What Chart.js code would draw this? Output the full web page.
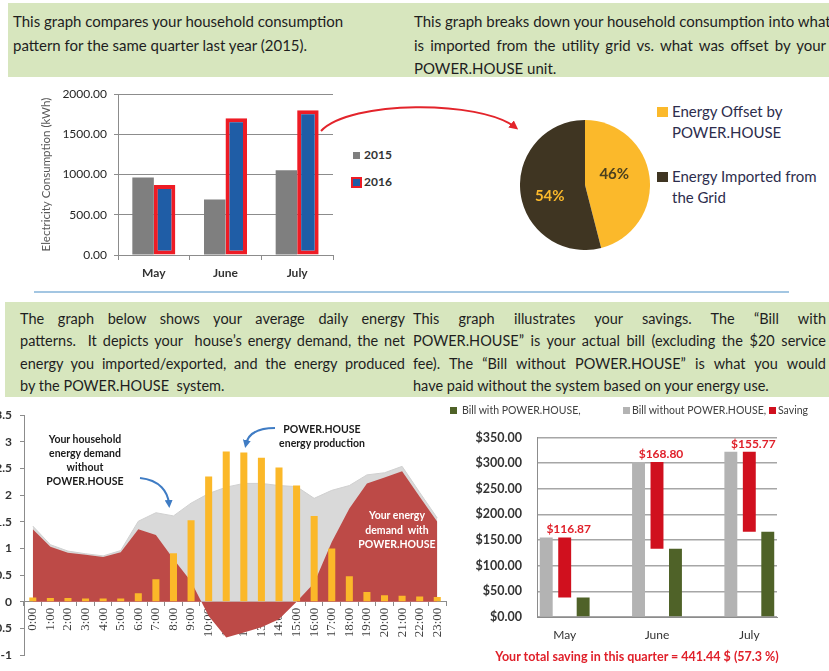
<!DOCTYPE html>
<html>
<head>
<meta charset="utf-8">
<script src="https://cdn.jsdelivr.net/npm/chart.js@4.4.0/dist/chart.umd.min.js"></script>
<style>
  body { margin: 0; background: #fff; font-family: Lato, 'Open Sans', sans-serif; color: #1e1e1e; }
  #page { position: relative; width: 829px; height: 671px; overflow: hidden; background: #fff; }
  .box { position: absolute; background: #d7e6be; }
  .col { position: absolute; font-size: 15px; }
  .col div { height: 23.5px; line-height: 23.5px; white-space: nowrap; }
  .col2 { font-size: 14.5px; }
  .col2 div { height: 22.3px; line-height: 22.3px; }
  canvas { position: absolute; }
  .note { position: absolute; font-weight: bold; font-size: 10.5px; line-height: 14px; text-align: center; color: #1a1a1a; }
  .leg { position: absolute; white-space: nowrap; }
  .sw { position: absolute; }
  #sep { position: absolute; left: 34px; top: 291px; width: 755px; height: 2px; background: #a3c6e2; }
  #footer { position: absolute; left: 437px; width: 400px; top: 649px; text-align: center; font-weight: bold; font-size: 12.5px; color: #e0202a; }
</style>
</head>
<body>
<div id="page">
  <div class="box" style="left:8px; top:3px; width:821px; height:74px;"></div>
  <div class="col" style="left:13px; top:10px; width:360px;">
    <div>This graph compares your household consumption</div>
    <div>pattern for the same quarter last year (2015).</div>
  </div>
  <div class="col" style="left:414px; top:10px; width:412px;">
    <div class="j">This graph breaks down your household consumption into what</div>
    <div class="j">is imported from the utility grid vs. what was offset by your</div>
    <div>POWER.HOUSE unit.</div>
  </div>

  <canvas id="consumptionChart" width="302" height="200" style="left:38px; top:80px;"></canvas>
  <div id="consumptionLegend"></div>

  <canvas id="shareChart" width="130" height="130" style="left:520px; top:120px;"></canvas>
  <div id="shareLegend"></div>

  <div id="sep"></div>

  <div class="box" style="left:5px; top:302px; width:824px; height:95px;"></div>
  <div class="col col2" style="left:20px; top:308px; width:385px;">
    <div class="j">The graph below shows your average daily energy</div>
    <div class="j">patterns.&nbsp; It depicts your&nbsp; house’s energy demand, the net</div>
    <div class="j">energy you imported/exported, and the energy produced</div>
    <div>by the POWER.HOUSE&nbsp; system.</div>
  </div>
  <div class="col col2" style="left:413px; top:308px; width:413px;">
    <div class="j">This graph illustrates your savings. The “Bill with</div>
    <div class="j">POWER.HOUSE” is your actual bill (excluding the $20 service</div>
    <div class="j">fee). The “Bill without POWER.HOUSE” is what you would</div>
    <div>have paid without the system based on your energy use.</div>
  </div>

  <canvas id="dailyChart" width="475" height="271" style="left:-20px; top:400px;"></canvas>
  <div class="note" style="left:25px; top:432px; width:120px;">Your household<br>energy demand<br>without<br>POWER.HOUSE</div>
  <div class="note" style="left:252px; top:422px; width:140px;">POWER.HOUSE<br>energy production</div>
  <div class="note" style="left:347px; top:508px; width:100px; color:#fff; line-height:14.5px;">Your energy<br>demand&nbsp; with<br>POWER.HOUSE</div>

  <canvas id="billChart" width="369" height="256" style="left:460px; top:415px;"></canvas>
  <div id="billLegend"></div>
  <div id="footer"></div>

  <svg width="829" height="671" style="position:absolute; left:0; top:0; pointer-events:none;">
    <defs>
      <marker id="redHead" markerWidth="9" markerHeight="9" refX="5" refY="4.5" orient="auto" markerUnits="userSpaceOnUse">
        <path d="M0,0 L9,4.5 L0,9 z" fill="#e3242b"/>
      </marker>
      <marker id="blueHead" markerWidth="8" markerHeight="8" refX="4" refY="4" orient="auto" markerUnits="userSpaceOnUse">
        <path d="M0,0 L8,4 L0,8 z" fill="#3f7cc4"/>
      </marker>
    </defs>
    <path d="M321,131 C350,100 480,100 515,127" stroke="#e3242b" stroke-width="2" fill="none" marker-end="url(#redHead)"/>
    <path d="M140,478 C160,480 168,492 169,504" stroke="#3f7cc4" stroke-width="2" fill="none" marker-end="url(#blueHead)"/>
    <path d="M275,428 C256,428 248,435 246,444" stroke="#3f7cc4" stroke-width="2" fill="none" marker-end="url(#blueHead)"/>
  </svg>
</div>

<script>
// Consumption vs last year
const months = ['May', 'June', 'July'];
const yearNames = ['2015', '2016'];
const consumption2015 = [965, 690, 1055];
const consumption2016 = [870, 1700, 1800];

// Offset vs imported share
const shareNames = ['Energy Offset by POWER.HOUSE', 'Energy Imported from the Grid'];
const shareValues = [46, 54];

// Average daily pattern (kWh)
const hours = ['0:00', '1:00', '2:00', '3:00', '4:00', '5:00', '6:00', '7:00', '8:00', '9:00', '10:00', '11:00',
    '12:00', '13:00', '14:00', '15:00', '16:00', '17:00', '18:00', '19:00', '20:00', '21:00', '22:00', '23:00'];
const demandWithout = [1.42, 1.07, 0.95, 0.90, 0.86, 0.96, 1.51, 1.67, 1.61, 1.85, 2.03, 2.15,
    2.22, 2.22, 2.18, 2.16, 1.94, 2.09, 2.18, 2.38, 2.42, 2.54, 2.05, 1.57];
const demandWith = [1.36, 1.03, 0.92, 0.88, 0.84, 0.93, 1.36, 1.25, 0.80, 0.38, -0.27, -0.67,
    -0.58, -0.48, -0.33, 0.00, 0.35, 1.12, 1.75, 2.22, 2.33, 2.45, 1.97, 1.50];
const production = [0.08, 0.07, 0.07, 0.06, 0.06, 0.06, 0.16, 0.42, 0.91, 1.53, 2.35, 2.82,
    2.80, 2.70, 2.52, 2.18, 1.61, 1.00, 0.48, 0.18, 0.12, 0.11, 0.10, 0.09];

// Bills ($)
const billNames = ['Bill with POWER.HOUSE,', 'Bill without POWER.HOUSE,', 'Saving'];
const billWith = [38.13, 133.20, 166.23];
const billWithout = [155.00, 302.00, 322.00];
const savings = [116.87, 168.80, 155.77];
const savingShare = 57.3;

Chart.defaults.font.family = 'Lato';
Chart.defaults.color = '#404040';

document.addEventListener("DOMContentLoaded", () => {
    // justify single text lines by spreading the word gaps
    document.querySelectorAll('.j').forEach(line => {
        const target = line.clientWidth;
        const span = document.createElement('span');
        span.innerHTML = line.innerHTML;
        line.innerHTML = '';
        line.appendChild(span);
        const gaps = (span.textContent.match(/[ \u00a0]/g) || []).length;
        const extra = target - span.getBoundingClientRect().width;
        if (gaps > 0 && extra > 0) span.style.wordSpacing = (extra / gaps) + 'px';
    });

    // legend helper
    function addLegend(holderId, items) {
        const holder = document.getElementById(holderId);
        items.forEach(it => {
            const sw = document.createElement('div');
            sw.className = 'sw';
            sw.style.cssText = `left:${it.sx}px; top:${it.sy}px; width:${it.w}px; height:${it.h}px; background:${it.color};` + (it.border || '');
            holder.appendChild(sw);
            const tx = document.createElement('div');
            tx.className = 'leg';
            tx.style.cssText = `left:${it.tx}px; top:${it.ty}px; font-size:${it.size}px; line-height:${it.lh}px; color:${it.textColor};` + (it.extra || '');
            tx.innerHTML = it.text;
            holder.appendChild(tx);
        });
    }

    // Consumption - bar chart
    new Chart(document.getElementById('consumptionChart'), {
        type: 'bar',
        data: {
            labels: months,
            datasets: [{
                label: yearNames[0],
                data: consumption2015,
                backgroundColor: '#7f7f7f',
                borderWidth: 0
            }, {
                label: yearNames[1],
                data: consumption2016,
                backgroundColor: '#1f5da6',
                borderColor: '#ee1c25',
                borderWidth: 4,
                borderSkipped: false
            }]
        },
        options: {
            responsive: false,
            animation: false,
            layout: { padding: { top: 7, right: 7 } },
            datasets: { bar: { categoryPercentage: 0.6, barPercentage: 1 } },
            plugins: { legend: { display: false }, tooltip: { enabled: false } },
            scales: {
                x: {
                    grid: { offset: true, drawOnChartArea: false, tickLength: 5, color: '#8c8c8c' },
                    border: { color: '#8c8c8c' },
                    ticks: { padding: 6, color: '#333', font: { size: 12, weight: 'bold' } },
                    afterFit: s => { s.height = 25; }
                },
                y: {
                    min: 0,
                    max: 2000,
                    ticks: { stepSize: 500, padding: 7, color: '#262626', font: { size: 12 }, callback: v => v.toFixed(2) },
                    grid: { color: '#8c8c8c', tickLength: 4 },
                    border: { color: '#8c8c8c' },
                    title: { display: true, text: 'Electricity Consumption (kWh)', color: '#595959', font: { size: 11.5 }, padding: { top: 1, bottom: 0 } },
                    afterFit: s => { s.width = 80; }
                }
            }
        }
    });
    addLegend('consumptionLegend', [
        { sx: 353, sy: 152, w: 7, h: 7, color: '#7f7f7f', tx: 364, ty: 147, size: 12, lh: 16, textColor: '#333', text: yearNames[0], extra: 'font-weight:bold;' },
        { sx: 351, sy: 177, w: 7, h: 7, color: '#1f5da6', border: 'border:2px solid #ee1c25;', tx: 364, ty: 174, size: 12, lh: 16, textColor: '#333', text: yearNames[1], extra: 'font-weight:bold;' }
    ]);

    // Share - pie chart
    const shareColors = ['#fbb92b', '#3f3522'];
    const shareLabelColors = ['#4a3f1f', '#fbb92b'];
    const pieLabels = {
        id: 'pieLabels',
        afterDatasetsDraw(chart) {
            const ctx = chart.ctx;
            chart.getDatasetMeta(0).data.forEach((arc, i) => {
                const p = arc.tooltipPosition();
                ctx.save();
                ctx.font = 'bold 15px Lato';
                ctx.fillStyle = shareLabelColors[i];
                ctx.textAlign = 'center';
                ctx.textBaseline = 'middle';
                ctx.fillText(shareValues[i] + '%', p.x - 3, p.y + (i === 0 ? -7 : 7));
                ctx.restore();
            });
        }
    };
    new Chart(document.getElementById('shareChart'), {
        type: 'pie',
        data: {
            labels: shareNames,
            datasets: [{ data: shareValues, backgroundColor: shareColors, borderWidth: 0 }]
        },
        options: {
            responsive: false,
            animation: false,
            plugins: { legend: { display: false }, tooltip: { enabled: false } }
        },
        plugins: [pieLabels]
    });
    addLegend('shareLegend', [
        { sx: 657, sy: 107, w: 11, h: 10, color: shareColors[0], tx: 672, ty: 101, size: 15, lh: 21, textColor: '#2d2d4d', text: 'Energy Offset by<br>POWER.HOUSE' },
        { sx: 657, sy: 172, w: 11, h: 10, color: shareColors[1], tx: 672, ty: 166, size: 15, lh: 21, textColor: '#2d2d4d', text: 'Energy Imported from<br>the Grid' }
    ]);

    // Daily pattern - bars + areas
    new Chart(document.getElementById('dailyChart'), {
        type: 'bar',
        data: {
            labels: hours,
            datasets: [{
                type: 'bar',
                label: 'POWER.HOUSE energy production',
                data: production,
                backgroundColor: '#fbb829',
                barPercentage: 0.4,
                categoryPercentage: 1,
                order: 0
            }, {
                type: 'line',
                label: 'Your energy demand with POWER.HOUSE',
                data: demandWith,
                backgroundColor: '#bd4a47',
                borderWidth: 0,
                pointRadius: 0,
                fill: 'origin',
                order: 1
            }, {
                type: 'line',
                label: 'Your household energy demand without POWER.HOUSE',
                data: demandWithout,
                backgroundColor: '#d9d9d9',
                borderColor: '#d0d0d0',
                borderWidth: 1,
                pointRadius: 0,
                fill: 'origin',
                order: 2
            }]
        },
        options: {
            responsive: false,
            animation: false,
            layout: { padding: { top: 8, right: 6, bottom: 16 } },
            plugins: { legend: { display: false }, tooltip: { enabled: false } },
            scales: {
                x: {
                    position: { y: 0 },
                    grid: { offset: true, drawOnChartArea: false, tickLength: 4, color: '#8c8c8c' },
                    border: { color: '#8c8c8c' },
                    ticks: { minRotation: 90, maxRotation: 90, autoSkip: false, padding: 2, color: '#404040', font: { family: 'Liberation Serif', size: 13 } },
                    afterFit: s => { s.height = 0; }
                },
                y: {
                    min: -1,
                    max: 3.5,
                    ticks: { stepSize: 0.5, padding: 8, color: '#333', font: { size: 12, weight: 'bold' }, callback: v => String(v) },
                    grid: { drawOnChartArea: false, tickLength: 4, color: '#8c8c8c' },
                    border: { color: '#8c8c8c' },
                    afterFit: s => { s.width = 44; }
                }
            }
        }
    });

    // Bills - grouped + floating bars
    const billColors = ['#4f6228', '#b3b3b3', '#d0101e'];
    const savingLabels = {
        id: 'savingLabels',
        afterDatasetsDraw(chart) {
            const ctx = chart.ctx;
            chart.getDatasetMeta(1).data.forEach((bar, i) => {
                ctx.save();
                ctx.font = 'bold 12px Lato';
                ctx.fillStyle = '#e0202a';
                ctx.textAlign = 'center';
                ctx.textBaseline = 'middle';
                ctx.fillText('$' + savings[i].toFixed(2), bar.x + 4, Math.min(bar.y, bar.base) - 8);
                ctx.restore();
            });
        }
    };
    new Chart(document.getElementById('billChart'), {
        type: 'bar',
        data: {
            datasets: [{
                label: billNames[1],
                data: billWithout.map((v, i) => ({ x: i, y: v })),
                backgroundColor: billColors[1]
            }, {
                label: billNames[2],
                data: billWith.map((v, i) => ({ x: i, y: [v, billWithout[i]] })),
                backgroundColor: billColors[2]
            }, {
                label: billNames[0],
                data: billWith.map((v, i) => ({ x: i, y: v })),
                backgroundColor: billColors[0]
            }]
        },
        options: {
            responsive: false,
            animation: false,
            layout: { padding: { top: 16, right: 52 } },
            datasets: { bar: { categoryPercentage: 0.6, barPercentage: 0.7 } },
            plugins: { legend: { display: false }, tooltip: { enabled: false } },
            scales: {
                x: {
                    type: 'linear',
                    offset: false,
                    min: -0.3,
                    max: 2.3,
                    afterBuildTicks: s => { s.ticks = months.map((m, i) => ({ value: i })); },
                    grid: { display: false },
                    border: { display: true, color: '#8c8c8c' },
                    ticks: { padding: 3, color: '#333', font: { size: 12 }, callback: v => months[v] },
                    afterFit: s => { s.height = 54; }
                },
                y: {
                    min: 0,
                    max: 350,
                    ticks: { stepSize: 50, padding: 15, color: '#333', font: { size: 12.5, weight: 'bold' }, callback: v => '$' + v.toFixed(2) },
                    grid: { color: '#a6a6a6', lineWidth: 1.5, drawTicks: false },
                    border: { color: '#8c8c8c' },
                    afterFit: s => { s.width = 77; }
                }
            }
        },
        plugins: [savingLabels]
    });
    addLegend('billLegend', [
        { sx: 450, sy: 407, w: 7, h: 7, color: billColors[0], tx: 462, ty: 403, size: 10.5, lh: 14, textColor: '#404040', text: billNames[0] },
        { sx: 623, sy: 407, w: 7, h: 7, color: billColors[1], tx: 632, ty: 403, size: 10.5, lh: 14, textColor: '#404040', text: billNames[1] },
        { sx: 769, sy: 407, w: 7, h: 7, color: billColors[2], tx: 778, ty: 403, size: 10.5, lh: 14, textColor: '#404040', text: billNames[2] }
    ]);

    const totalSaving = savings.reduce((a, b) => a + b, 0);
    document.getElementById('footer').textContent =
        `Your total saving in this quarter = ${totalSaving.toFixed(2)} $ (${savingShare} %)`;
});
</script>
</body>
</html>
